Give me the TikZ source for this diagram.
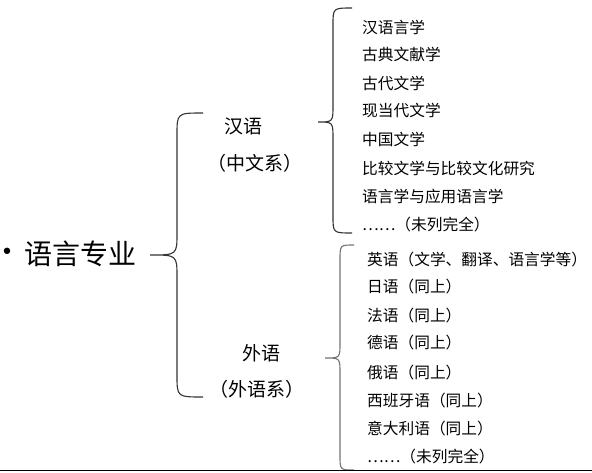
\documentclass[tikz,border=0pt]{standalone}
\usepackage{fontspec}
\setmainfont{Noto Sans CJK SC}
\newfontfamily\symfont{DejaVu Sans}
\newcommand{\leftbrc}[7]{% e v t y1 ym y2 r
  (#1,#4) .. controls (#2,#4) .. (#2,#4+#7) -- (#2,#5-#7)
  .. controls (#2,#5) .. (#3,#5) .. controls (#2,#5) .. (#2,#5+#7)
  -- (#2,#6-#7) .. controls (#2,#6) .. (#1,#6)}
\begin{document}
\begin{tikzpicture}[x=1pt,y=-1pt,
  item/.style={anchor=west, inner sep=0pt, font=\fontsize{15.7}{17}\selectfont},
  mid/.style={inner sep=0pt, font=\fontsize{19}{21}\selectfont},
  root/.style={inner sep=0pt, font=\fontsize{28}{30}\selectfont},
  brc/.style={line width=1.1pt, draw=#1},
]
\fill[white] (0,0) rectangle (592,472);
\useasboundingbox (0,0) rectangle (592,472);

% root
\node[inner sep=0pt, font=\symfont\fontsize{22}{24}\selectfont] (bul) at (7,254) {•};
\node[root] (root) at (80,254) {语言专业};

% main brace
\draw[brc=black!80] \leftbrc{203}{177}{150}{113}{255}{397}{22};

% middle labels
\node[mid] (han) at (243,126) {汉语};
\node[mid] (hansub) at (255,163) {（中文系）};
\node[mid] (wai) at (261,353) {外语};
\node[mid] (waisub) at (257,389) {（外语系）};

% upper brace
\draw[brc=black!80] \leftbrc{352}{333}{318}{8}{122}{233}{17};
% lower brace
\draw[brc=black!55] \leftbrc{354}{340}{325}{245}{358}{470}{15};

% upper items
\node[item] (u1) at (362,27) {汉语言学};
\node[item] (u2) at (362,54) {古典文献学};
\node[item] (u3) at (362,83) {古代文学};
\node[item] (u4) at (362,110) {现当代文学};
\node[item] (u5) at (362,139) {中国文学};
\node[item] (u6) at (362,168) {比较文学与比较文化研究};
\node[item] (u7) at (362,197) {语言学与应用语言学};
\node[item] (u8) at (362,225) {……（未列完全）};

% lower items
\node[item] (l1) at (367,260) {英语（文学、翻译、语言学等）};
\node[item] (l2) at (367,287) {日语（同上）};
\node[item] (l3) at (367,316) {法语（同上）};
\node[item] (l4) at (367,343) {德语（同上）};
\node[item] (l5) at (367,373) {俄语（同上）};
\node[item] (l6) at (367,401) {西班牙语（同上）};
\node[item] (l7) at (367,429) {意大利语（同上）};
\node[item] (l8) at (367,457) {……（未列完全）};

% bottom rule
\draw[line width=1.6pt] (0,470.5) -- (592,470.5);
\end{tikzpicture}
\end{document}
